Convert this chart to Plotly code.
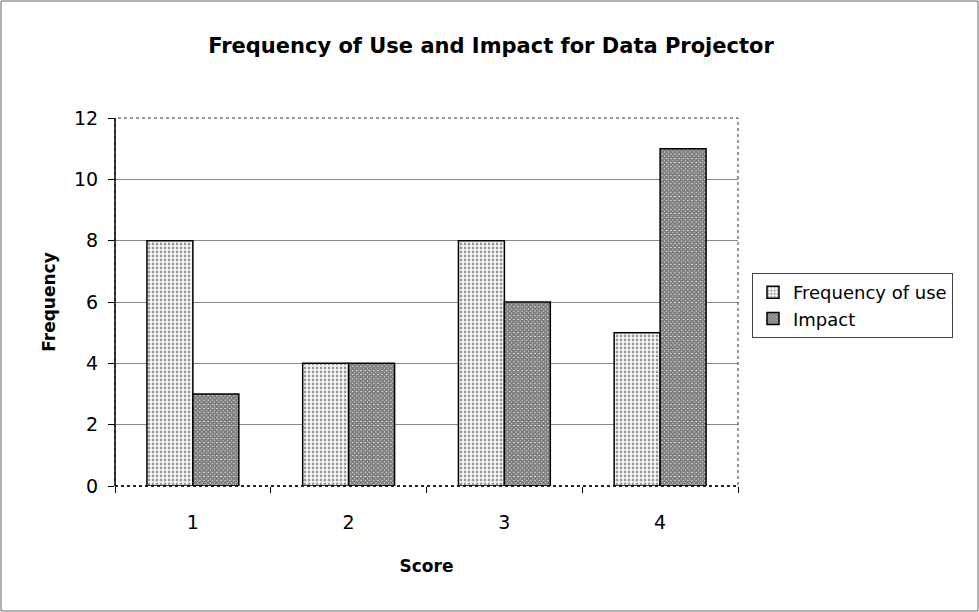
import plotly.graph_objects as go

categories = ["1", "2", "3", "4"]
freq_use = [8, 4, 8, 5]
impact = [3, 4, 6, 11]
y_ticks = [0, 2, 4, 6, 8, 10, 12]

W, H = 979, 612
L, R, T, B = 115, 241, 118, 126
pw, ph = W - L - R, H - T - B

fig = go.Figure()
fig.add_trace(go.Bar(
    x=categories, y=freq_use, name="Frequency of use",
    marker=dict(color="white", line=dict(color="black", width=1.5),
                pattern=dict(shape=".", fgcolor="#333", bgcolor="white", size=4, solidity=0.4)),
))
fig.add_trace(go.Bar(
    x=categories, y=impact, name="Impact",
    marker=dict(color="white", line=dict(color="black", width=1.5),
                pattern=dict(shape="x", fgcolor="#000", bgcolor="white", size=3, solidity=0.9)),
))

font = "DejaVu Sans, Arial, sans-serif"
fig.update_layout(
    width=W, height=H,
    margin=dict(l=L, r=R, t=T, b=B),
    paper_bgcolor="white", plot_bgcolor="white",
    barmode="group", bargap=0.41, bargroupgap=0,
    title=dict(text="<b>Frequency of Use and Impact for Data Projector</b>",
               x=491 / W, xanchor="center", y=1 - 46 / H, yanchor="middle",
               font=dict(family=font, size=21, color="black")),
    font=dict(family=font, size=18, color="black"),
    legend=dict(x=(752 - L) / pw, y=1 - (273 - T) / ph, xanchor="left", yanchor="top",
                xref="paper", yref="paper",
                bordercolor="#444", borderwidth=1, bgcolor="white",
                font=dict(family=font, size=18), tracegroupgap=0,
                itemwidth=30),
    showlegend=True,
)
fig.update_xaxes(
    type="category", ticks="outside", tickson="boundaries", ticklen=6, tickcolor="black",
    showline=False, showgrid=False, ticklabelstandoff=23,
    title=dict(text="<b>Score</b>", font=dict(family=font, size=17), standoff=28),
    tickfont=dict(family=font, size=19),
)
fig.update_yaxes(
    range=[0, 12], tickvals=y_ticks, ticks="outside", ticklen=6, tickcolor="black",
    showline=False, showgrid=True, gridcolor="#888", gridwidth=1, zeroline=False,
    ticklabelstandoff=6,
    title=dict(text="<b>Frequency</b>", font=dict(family=font, size=17), standoff=14),
    tickfont=dict(family=font, size=19),
)

# plot area dotted border
fig.add_shape(type="rect", xref="paper", yref="paper", x0=0, y0=0, x1=1, y1=1,
              line=dict(color="#333", width=1, dash="dot"), layer="above")
# axis lines
fig.add_shape(type="line", xref="paper", yref="paper", x0=0, y0=0, x1=0, y1=1,
              line=dict(color="black", width=1.5), layer="above")
fig.add_shape(type="line", xref="paper", yref="paper", x0=0, y0=0, x1=1, y1=0,
              line=dict(color="black", width=1.5, dash="dot"), layer="above")
# chart outer border
fig.add_shape(type="rect", xref="paper", yref="paper",
              x0=-(L - 1) / pw, y0=-(B - 1) / ph, x1=1 + (R - 1) / pw, y1=1 + (T - 1) / ph,
              line=dict(color="#666", width=1), layer="above")

fig.write_html("out.html")
